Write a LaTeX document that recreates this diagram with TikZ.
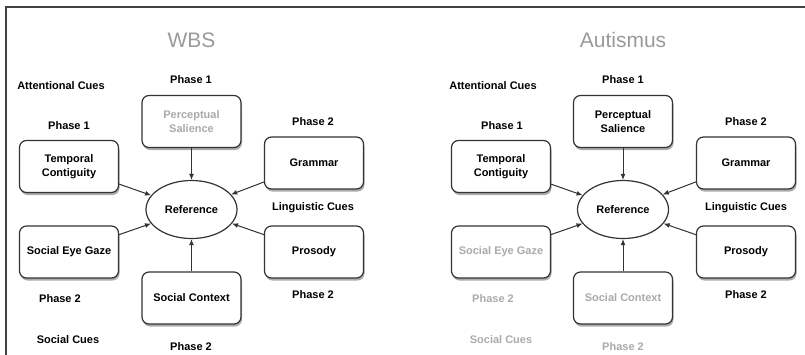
\documentclass[tikz,border=0pt]{standalone}
\usepackage{fontspec}
\setmainfont{Liberation Sans}
\usetikzlibrary{shapes.geometric,shadows,arrows.meta}
\definecolor{dimtext}{HTML}{AAAAAA}
\definecolor{titlegray}{HTML}{9A9A9A}
\definecolor{edgegray}{HTML}{333333}
\tikzset{
  box/.style={draw=edgegray, line width=1.2pt, rounded corners=7pt,
    minimum width=99pt, minimum height=52pt, fill=white, align=center,
    font=\bfseries\fontsize{11}{14}\selectfont,
    drop shadow={shadow xshift=1pt, shadow yshift=-2.5pt, fill=black!55, opacity=0.6}},
  refnode/.style={draw=edgegray, line width=1.2pt, ellipse, minimum width=91pt,
    minimum height=58pt, fill=white, inner sep=0pt,
    font=\bfseries\fontsize{11}{14}\selectfont},
  lbl/.style={font=\bfseries\fontsize{11}{14}\selectfont, inner sep=0pt},
  ttl/.style={font=\fontsize{21}{24}\selectfont, text=titlegray, inner sep=0pt},
  conn/.style={draw=edgegray, line width=1pt, -{Latex[length=6pt,width=5pt]}},
  dim/.style={text=dimtext}
}
\begin{document}
\begin{tikzpicture}[x=1pt,y=-1pt]
\useasboundingbox (0,0) rectangle (805,354);
\draw[line width=2pt, color=black!75] (806,7) coordinate (fr1) -- (6,7) coordinate (fr2) -- (6,356) coordinate (fr3);

% ---------- WBS ----------
\node[ttl] (wt) at (191.5,40) {WBS};
\node[lbl] (wac) at (61,86) {Attentional Cues};
\node[lbl] (wp1a) at (191,80) {Phase 1};
\node[lbl] (wp1b) at (69,126) {Phase 1};
\node[lbl] (wp2a) at (313,122) {Phase 2};
\node[lbl] (wlc) at (313,208) {Linguistic Cues};
\node[lbl] (wp2b) at (60,299) {Phase 2};
\node[lbl] (wp2c) at (313,295) {Phase 2};
\node[lbl] (wsc) at (68,340) {Social Cues};
\node[lbl] (wp2d) at (191,347) {Phase 2};

\node[box, text=dimtext] (wper) at (191.5,121.5) {Perceptual\\Salience};
\node[box] (wtem) at (69,166.5) {Temporal\\Contiguity};
\node[box] (wgra) at (314,163) {Grammar};
\node[box] (wseg) at (69,252) {Social Eye Gaze};
\node[box] (wpro) at (314,252) {Prosody};
\node[box] (wsoc) at (191.5,298) {Social Context};
\node[refnode] (wref) at (191.5,209.5) {Reference};

\draw[conn] (wper) -- (wref);
\draw[conn] (wtem) -- (wref);
\draw[conn] (wgra) -- (wref);
\draw[conn] (wseg) -- (wref);
\draw[conn] (wpro) -- (wref);
\draw[conn] (wsoc) -- (wref);

% ---------- Autismus ----------
\node[ttl] (at) at (623,40) {Autismus};
\node[lbl] (aac) at (493,86) {Attentional Cues};
\node[lbl] (ap1a) at (623,80) {Phase 1};
\node[lbl] (ap1b) at (502,126) {Phase 1};
\node[lbl] (ap2a) at (746,122) {Phase 2};
\node[lbl] (alc) at (746,208) {Linguistic Cues};
\node[lbl, dim] (ap2b) at (493,299) {Phase 2};
\node[lbl] (ap2c) at (746,295) {Phase 2};
\node[lbl, dim] (asc) at (501,340) {Social Cues};
\node[lbl, dim] (ap2d) at (623,347) {Phase 2};

\node[box] (aper) at (623,121.5) {Perceptual\\Salience};
\node[box] (atem) at (501,166.5) {Temporal\\Contiguity};
\node[box] (agra) at (746,163) {Grammar};
\node[box, text=dimtext] (aseg) at (501,252) {Social Eye Gaze};
\node[box] (apro) at (746,252) {Prosody};
\node[box, text=dimtext] (asoc) at (623,298) {Social Context};
\node[refnode] (aref) at (623,209.5) {Reference};

\draw[conn] (aper) -- (aref);
\draw[conn] (atem) -- (aref);
\draw[conn] (agra) -- (aref);
\draw[conn] (aseg) -- (aref);
\draw[conn] (apro) -- (aref);
\draw[conn] (asoc) -- (aref);
\end{tikzpicture}
\end{document}
